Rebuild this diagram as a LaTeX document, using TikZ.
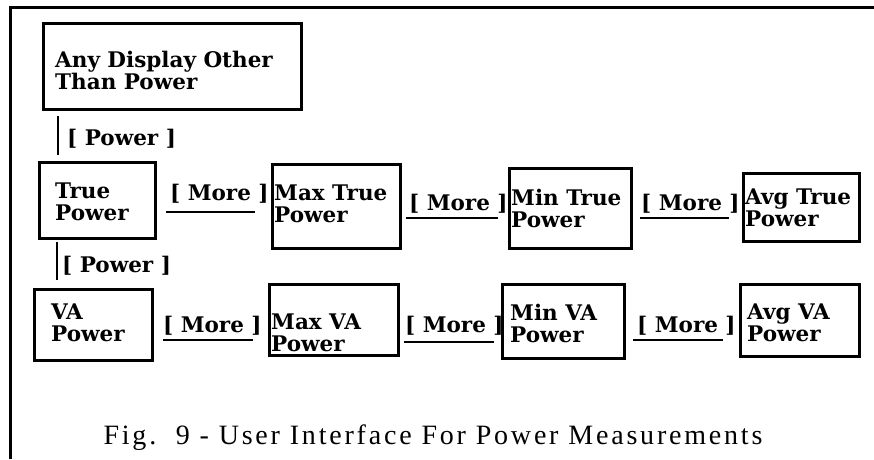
\documentclass[tikz,border=0pt]{standalone}
\usepackage{fontspec}
\setmainfont{Liberation Serif}
\newfontfamily\boxfont{DejaVu Serif}
\newfontfamily\capfont{Liberation Serif}[LetterSpace=10]
\begin{document}
\begin{tikzpicture}[x=1pt,y=-1pt,
  box/.style={draw, line width=2.5pt, anchor=north west, inner sep=0pt},
  btext/.style={font=\boxfont\bfseries\fontsize{21.5}{21.5}\selectfont, align=left, anchor=north west, inner sep=0pt},
  lab/.style={font=\boxfont\bfseries\fontsize{21.5}{21}\selectfont, anchor=base west, inner sep=0pt},
  conn/.style={line width=2.5pt},
  vconn/.style={line width=2pt},
  frame/.style={line width=3pt}]
\useasboundingbox (0,0) rectangle (874,459);
% frame
\coordinate (fa) at (10.5,459);
\coordinate (fb) at (10.5,7.5);
\coordinate (fc) at (874,7.5);
\draw[frame] (fa) -- (fb) -- (fc);
% boxes
\node[box, minimum width=258, minimum height=86] (any) at (42,22) {};
\node[btext] (any-t) at (55,51) {Any Display Other\\Than Power};
\node[box, minimum width=116, minimum height=76] (tp) at (38,161) {};
\node[btext] (tp-t) at (55,183) {True\\Power};
\node[box, minimum width=128, minimum height=84] (maxt) at (271,163) {};
\node[btext] (maxt-t) at (274,185) {Max True\\Power};
\node[box, minimum width=122, minimum height=80] (mint) at (508,167) {};
\node[btext] (mint-t) at (511,189) {Min True\\Power};
\node[box, minimum width=116, minimum height=68] (avgt) at (742,172) {};
\node[btext] (avgt-t) at (745,189) {Avg True\\Power};
\node[box, minimum width=118, minimum height=71] (va) at (33,288) {};
\node[btext] (va-t) at (51,304) {VA\\Power};
\node[box, minimum width=129, minimum height=71] (maxva) at (268,283) {};
\node[btext] (maxva-t) at (271,314) {Max VA\\Power};
\node[box, minimum width=122, minimum height=74] (minva) at (501,283) {};
\node[btext] (minva-t) at (510,304) {Min VA\\Power};
\node[box, minimum width=119, minimum height=72] (avgva) at (739,283) {};
\node[btext] (avgva-t) at (747,304) {Avg VA\\Power};
% vertical connectors
\coordinate (p1a) at (58,116); \coordinate (p1b) at (58,155);
\draw[vconn] (p1a) -- (p1b);
\node[lab] (p1) at (67,145) {[ Power ]};
\coordinate (p2a) at (57,242); \coordinate (p2b) at (57,280);
\draw[vconn] (p2a) -- (p2b);
\node[lab] (p2) at (62,272) {[ Power ]};
% row 1 more
\coordinate (m1a) at (166,212); \coordinate (m1b) at (255,212);
\draw[conn] (m1a) -- (m1b);
\node[lab] (m1) at (170,200) {[ More ]};
\coordinate (m2a) at (406,218); \coordinate (m2b) at (498,218);
\draw[conn] (m2a) -- (m2b);
\node[lab] (m2) at (409,210) {[ More ]};
\coordinate (m3a) at (640,218); \coordinate (m3b) at (729,218);
\draw[conn] (m3a) -- (m3b);
\node[lab] (m3) at (641,210) {[ More ]};
% row 2 more
\coordinate (n1a) at (163,340); \coordinate (n1b) at (253,340);
\draw[conn] (n1a) -- (n1b);
\node[lab] (n1) at (163,332) {[ More ]};
\coordinate (n2a) at (404,342); \coordinate (n2b) at (494,342);
\draw[conn] (n2a) -- (n2b);
\node[lab] (n2) at (405,332) {[ More ]};
\coordinate (n3a) at (633,340); \coordinate (n3b) at (723,340);
\draw[conn] (n3a) -- (n3b);
\node[lab] (n3) at (637,332) {[ More ]};
% caption
\node[font=\capfont\fontsize{28}{32}\selectfont, anchor=base, inner sep=0pt] (cap) at (433,444) {Fig.\ \ 9 - User Interface For Power Measurements};
\end{tikzpicture}
\end{document}
